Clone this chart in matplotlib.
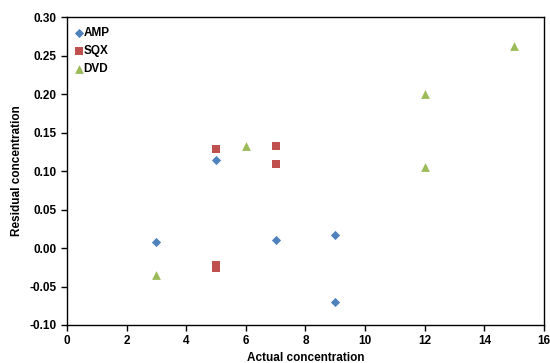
import matplotlib
matplotlib.use("Agg")
import matplotlib.pyplot as plt

amp_x = [3, 5, 7, 9, 9]
amp_y = [0.008, 0.114, 0.011, 0.017, -0.070]
sqx_x = [5, 5, 5, 7, 7]
sqx_y = [0.128, -0.022, -0.026, 0.132, 0.109]
dvd_x = [3, 6, 12, 12, 15]
dvd_y = [-0.035, 0.132, 0.200, 0.105, 0.262]

xticks = [0, 2, 4, 6, 8, 10, 12, 14, 16]
yticks = [-0.10, -0.05, 0.00, 0.05, 0.10, 0.15, 0.20, 0.25, 0.30]

plt.rcParams['font.family'] = ['Liberation Sans', 'DejaVu Sans']
fig = plt.figure(figsize=(5.5, 3.63), dpi=100)
ax = fig.add_axes([0.1218, 0.1047, 0.8672, 0.8483])

ax.scatter(amp_x, amp_y, marker='D', s=22, color='#4F81BD', label='AMP', zorder=3, linewidths=0)
ax.scatter(sqx_x, sqx_y, marker='s', s=34, color='#C0504D', label='SQX', zorder=3, linewidths=0)
ax.scatter(dvd_x, dvd_y, marker='^', s=40, color='#9BBB59', label='DVD', zorder=3, linewidths=0)

ax.set_xlim(0, 16)
ax.set_ylim(-0.10, 0.30)
ax.set_xticks(xticks)
ax.set_yticks(yticks)
ax.set_yticklabels([f"{v:.2f}" for v in yticks])
ax.tick_params(direction='out', length=4, width=1, labelsize=8.5)
for lab in ax.get_xticklabels() + ax.get_yticklabels():
    lab.set_fontweight('bold')
for sp in ax.spines.values():
    sp.set_linewidth(1)
    sp.set_color('black')

ax.set_xlabel('Actual concentration', fontsize=8.5, fontweight='bold', labelpad=3)
ax.set_ylabel('Residual concentration', fontsize=8.5, fontweight='bold', labelpad=5)

leg = ax.legend(loc='upper left', bbox_to_anchor=(0, 0.99), frameon=False,
                prop={'size': 8.5, 'weight': 'bold'},
                handletextpad=0.0, borderaxespad=0.2, labelspacing=0.5, handlelength=0.8,
                borderpad=0.4)

fig.savefig('out.png', dpi=100)
